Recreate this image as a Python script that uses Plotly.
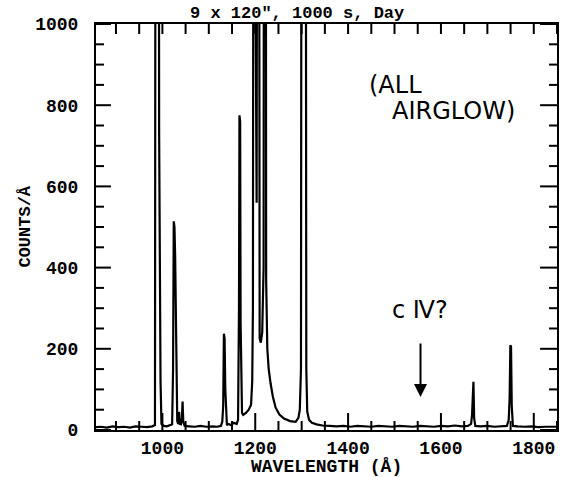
import plotly.graph_objects as go

# Spectrum (wavelength in Angstrom, counts per Angstrom)
wavelength = [857, 868, 880, 893, 905, 918, 930, 942, 955, 967, 978, 984,
              985.5, 992, 993, 994.5, 996, 998, 1003, 1010, 1016, 1021,
              1023, 1024.5, 1026, 1027.5, 1029, 1030.5, 1032, 1034, 1036, 1037.5,
              1040, 1042, 1043.5, 1045, 1048, 1058, 1070, 1082, 1095, 1108, 1118,
              1126, 1129, 1131, 1132.5, 1134, 1135.5, 1137, 1139, 1143, 1148, 1154,
              1160, 1163, 1165, 1166, 1167.5, 1168.5, 1170, 1171.5, 1174, 1180,
              1186, 1191, 1193.5, 1195, 1196.5, 1200, 1201.5, 1203, 1204.5, 1208,
              1209.5, 1212, 1215, 1218, 1219, 1222.5, 1223.5, 1226, 1229, 1233,
              1238, 1244, 1252, 1262, 1275, 1287, 1293, 1296, 1298.5, 1300, 1308.5,
              1310, 1312, 1316, 1322, 1332, 1345, 1360, 1375, 1390, 1405, 1420,
              1435, 1450, 1465, 1480, 1495, 1510, 1525, 1540, 1555, 1570, 1585,
              1600, 1615, 1630, 1645, 1658, 1665, 1667, 1668.5, 1670, 1671.5, 1674,
              1685, 1700, 1715, 1730, 1742, 1746, 1748, 1749.5, 1751, 1752.5, 1755,
              1765, 1780, 1795, 1810, 1825, 1840, 1850]
counts = [7, 8, 6, 9, 7, 8, 6, 9, 8, 7, 9, 12,
          2000, 2000, 730, 400, 120, 15, 10, 9, 11, 14,
          150, 514, 500, 430, 220, 60, 22, 15, 45, 15,
          14, 30, 70, 20, 10, 9, 8, 10, 8, 9, 8,
          10, 20, 60, 237, 225, 100, 30, 12, 15, 12, 18,
          15, 25, 300, 775, 760, 264, 150, 42, 37, 42,
          50, 62, 120, 300, 2000, 2000, 600, 560, 2000, 2000,
          225, 215, 240, 400, 2000, 2000, 370, 200, 150, 115,
          82, 55, 38, 28, 22, 20, 30, 50, 150, 2000, 2000,
          150, 45, 25, 18, 14, 11, 10, 9, 10, 8, 10,
          9, 8, 10, 9, 8, 10, 9, 8, 10, 9, 8,
          10, 9, 11, 9, 10, 15, 37, 119, 119, 30, 10,
          9, 10, 8, 9, 10, 25, 80, 209, 205, 60, 10,
          9, 8, 9, 7, 8, 7, 8]

x_range = [857, 1850]
y_range = [0, 1000]
x_major = [1000, 1200, 1400, 1600, 1800]
x_minor = [v for v in range(900, 1851, 50) if v not in x_major]
x_top = list(range(900, 1851, 50))
y_major = [0, 200, 400, 600, 800, 1000]
y_minor = [v for v in range(50, 1000, 50) if v not in y_major]

title_text = '9 x 120", 1000 s, Day'
x_title = "WAVELENGTH (Å)"
y_title = "COUNTS/Å"

mono = "Liberation Mono"
hand = "DejaVu Sans"

# plot area size in pixels, used to turn tick lengths (px) into axis units
plot_w, plot_h = 463, 406
px_x = (x_range[1] - x_range[0]) / plot_w
px_y = (y_range[1] - y_range[0]) / plot_h

fig = go.Figure()
fig.add_trace(go.Scatter(x=wavelength, y=counts, mode="lines",
                         line=dict(color="black", width=2.2),
                         showlegend=False, hoverinfo="skip"))

# inward tick marks, built from the tick value lists
tx, ty = [], []
for vals, base, length in [(x_major, y_range[0], 17), (x_minor, y_range[0], 9),
                           (x_top, y_range[1], -10)]:
    for v in vals:
        tx += [v, v, None]
        ty += [base, base + length * px_y, None]
for vals, length in [(y_major, 15), (y_minor, 8)]:
    for v in vals:
        tx += [x_range[0], x_range[0] + length * px_x, None]
        ty += [v, v, None]
        tx += [x_range[1], x_range[1] - (length + (2 if length == 15 else 0)) * px_x, None]
        ty += [v, v, None]
fig.add_trace(go.Scatter(x=tx, y=ty, mode="lines", line=dict(color="black", width=2),
                         showlegend=False, hoverinfo="skip", connectgaps=False))

fig.update_layout(
    width=564, height=477,
    margin=dict(l=96, r=5, t=24, b=47, pad=0),
    paper_bgcolor="white", plot_bgcolor="white",
    xaxis=dict(range=x_range, showline=True, linecolor="black", linewidth=2,
               mirror=True, ticks="", tickmode="array", tickvals=x_major,
               ticktext=[str(v) for v in x_major],
               tickfont=dict(family=mono, size=18, color="black", weight="bold"),
               showgrid=False, zeroline=False),
    yaxis=dict(range=y_range, showline=True, linecolor="black", linewidth=2,
               mirror=True, ticks="", tickmode="array", tickvals=y_major,
               ticktext=[str(v) for v in y_major],
               tickfont=dict(family=mono, size=18, color="black", weight="bold"),
               showgrid=False, zeroline=False, ticklabelstandoff=12),
)

annotations = [
    dict(text=title_text, xref="paper", yref="paper", x=0.436, y=1.027,
         xanchor="center", yanchor="middle", showarrow=False,
         font=dict(family=mono, size=17, color="black", weight="bold")),
    dict(text=x_title, xref="paper", yref="paper", x=0.5, y=-0.092,
         xanchor="center", yanchor="middle", showarrow=False,
         font=dict(family=mono, size=18, color="black", weight="bold")),
    dict(text=y_title, xref="paper", yref="paper", x=-0.155, y=0.5,
         xanchor="center", yanchor="middle", showarrow=False, textangle=-90,
         font=dict(family=mono, size=17, color="black", weight="bold")),
    dict(text="(ALL", xref="x", yref="y", x=1503, y=850,
         xanchor="center", yanchor="middle", showarrow=False,
         font=dict(family=hand, size=24, color="black")),
    dict(text="AIRGLOW)", xref="x", yref="y", x=1627, y=785,
         xanchor="center", yanchor="middle", showarrow=False,
         font=dict(family=hand, size=24, color="black")),
    dict(text="c Ⅳ?", xref="x", yref="y", x=1554, y=296,
         xanchor="center", yanchor="middle", showarrow=False,
         font=dict(family=hand, size=24, color="black")),
    dict(text="", xref="x", yref="y", x=1556, y=81, axref="x", ayref="y",
         ax=1556, ay=217, showarrow=True, arrowhead=2, arrowsize=1.3,
         arrowwidth=2, arrowcolor="black"),
]
fig.update_layout(annotations=annotations)

fig.write_html("out.html")
